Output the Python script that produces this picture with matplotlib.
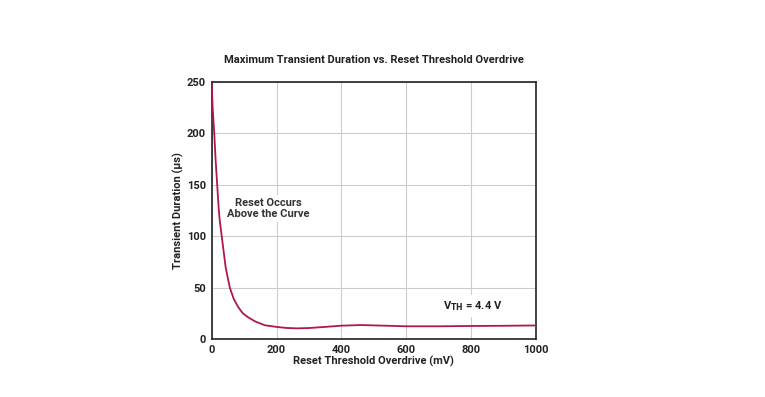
import matplotlib.pyplot as plt

# curve
overdrive = [0, 3, 8, 12, 17, 21.6, 25, 31, 37, 43, 50, 56, 68, 82, 96, 113,
             135, 164, 200, 230, 262, 300, 350, 400, 460, 520, 600, 700, 800,
             900, 1000]
duration = [250, 225, 200, 175, 150, 127, 115, 100, 85, 70, 59, 50, 39, 31, 25,
            21, 17, 13.4, 11.8, 10.8, 10.4, 10.7, 11.8, 13, 13.6, 13.1, 12.4,
            12.4, 12.7, 12.9, 13.2]

xticks = [0, 200, 400, 600, 800, 1000]
yticks = [0, 50, 100, 150, 200, 250]

plt.rcParams['font.family'] = ['Roboto', 'DejaVu Sans']
plt.rcParams['font.weight'] = 'bold'

fig = plt.figure(figsize=(7.65, 3.97), dpi=100)
ax = fig.add_axes([0.2767, 0.146, 0.4239, 0.6475])

ax.plot(overdrive, duration, color='#b0174b', lw=1.3, zorder=3,
        solid_joinstyle='round')

ax.set_xlim(0, 1000)
ax.set_ylim(0, 250)
ax.set_xticks(xticks)
ax.set_yticks(yticks)
ax.grid(True, color='#cccccc', lw=0.8)
ax.set_axisbelow(True)
for s in ax.spines.values():
    s.set_color('#222222')
    s.set_linewidth(1.2)
ax.tick_params(length=0, labelsize=8, pad=4, colors='#222222')
for lab in ax.get_xticklabels() + ax.get_yticklabels():
    lab.set_fontweight('bold')

ax.set_xlabel('Reset Threshold Overdrive (mV)', fontsize=8, fontweight='bold',
              labelpad=1, color='#222222')
ax.set_ylabel('Transient Duration (µs)', fontsize=8, fontweight='bold',
              labelpad=2, color='#222222')
ax.set_title('Maximum Transient Duration vs. Reset Threshold Overdrive',
             fontsize=8, fontweight='bold', pad=14, color='#222222')

ax.text(176, 127, 'Reset Occurs\nAbove the Curve', ha='center', va='center',
        fontsize=8, fontweight='bold', color='#333333', linespacing=1.2,
        bbox=dict(facecolor='white', edgecolor='none', pad=2), zorder=4)
ax.text(805, 32, r'V$_{\mathbf{TH}}$ = 4.4 V', ha='center', va='center',
        fontsize=8, fontweight='bold', color='#222222',
        bbox=dict(facecolor='white', edgecolor='none', pad=3), zorder=4)

fig.savefig('out.png', dpi=100)
